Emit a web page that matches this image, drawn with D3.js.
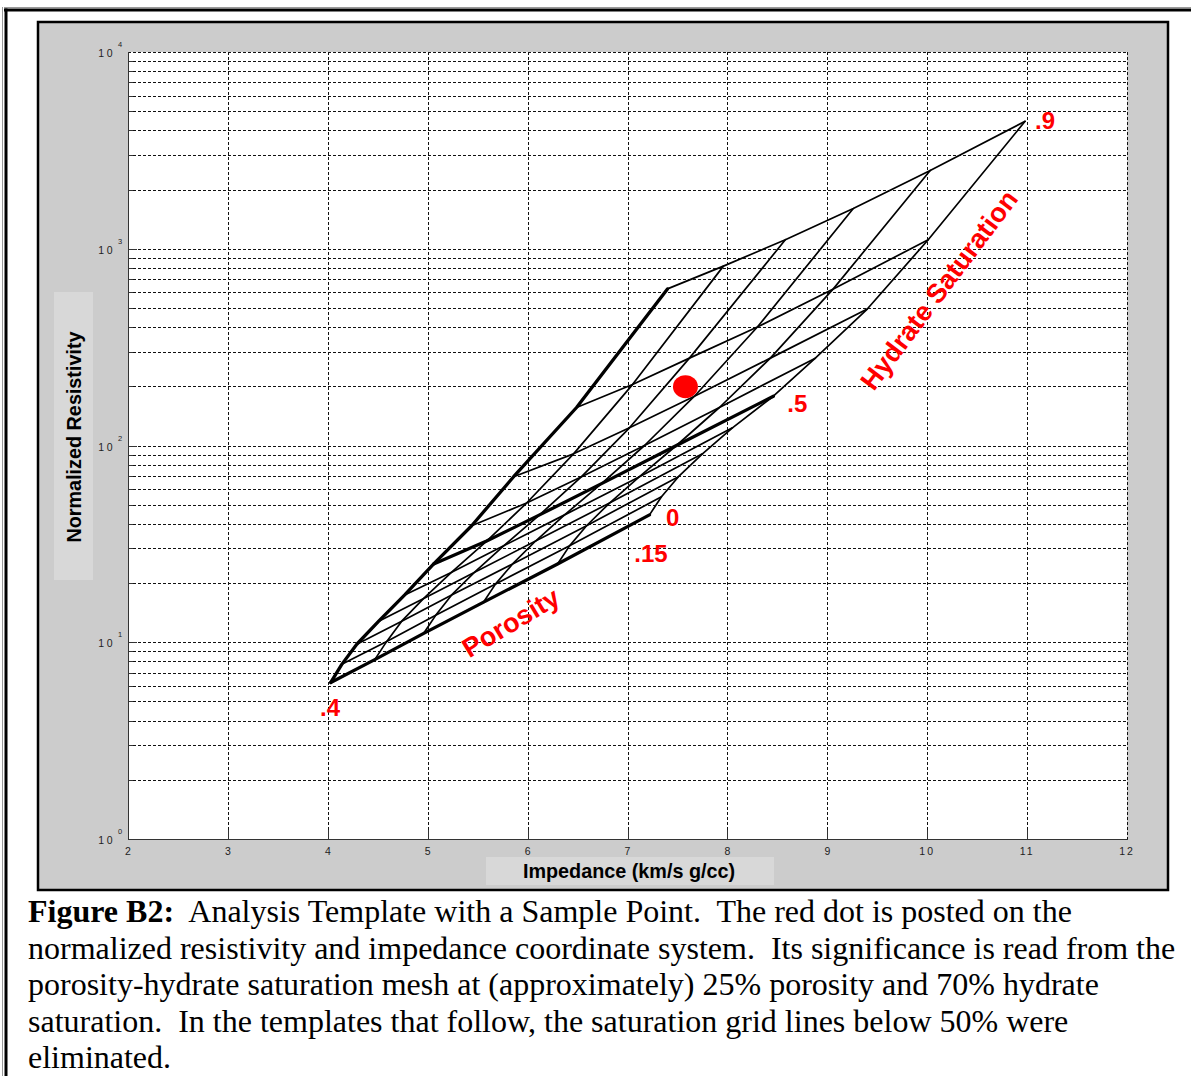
<!DOCTYPE html>
<html><head><meta charset="utf-8">
<script src="https://cdn.jsdelivr.net/npm/d3@7/dist/d3.min.js"></script>
<style>
html,body{margin:0;padding:0;background:#fff;}
svg{display:block;}
</style></head>
<body><svg id="chart" width="1191" height="1076"></svg>
<script>
// ---------------- data ----------------
const porosity = [0.40, 0.35, 0.30, 0.25, 0.20, 0.15];
const saturation = [0, 0.1, 0.2, 0.3, 0.4, 0.5, 0.6, 0.7, 0.8, 0.9];
// impedance (km/s g/cc) along each porosity line, saturation 0 -> 0.9
const impPhi40 = [4.03, 4.14, 4.29, 4.51, 4.77, 5.06, 5.44, 5.86, 6.49, 7.40];
const impPhi35 = [4.47, 4.59, 4.74, 4.96, 5.24, 5.59, 5.99, 6.46, 7.05, 7.96];
const impPhi30 = [4.96, 5.08, 5.24, 5.47, 5.76, 6.12, 6.54, 7.02, 7.62, 8.58];
const impPhi25 = [5.56, 5.68, 5.85, 6.08, 6.37, 6.74, 7.17, 7.67, 8.30, 9.26];
const impPhi20 = [6.30, 6.42, 6.59, 6.82, 7.12, 7.49, 7.92, 8.43, 9.06, 10.03];
const impPhi15 = [7.22, 7.34, 7.51, 7.75, 8.05, 8.46, 8.88, 9.40, 10.01, 10.98];
// normalized resistivity along each porosity line, saturation 0 -> 0.9
const resPhi40 = [6.25, 7.72, 9.77, 12.8, 17.4, 25.0, 39.1, 69.4, 156, 625];
const resPhi35 = [8.16, 10.1, 12.8, 16.7, 22.7, 32.7, 51.0, 90.7, 204, 816];
const resPhi30 = [11.1, 13.7, 17.4, 22.7, 30.9, 44.4, 69.4, 123, 278, 1111];
const resPhi25 = [16.0, 19.8, 25.0, 32.7, 44.4, 64.0, 100, 178, 400, 1600];
const resPhi20 = [25.0, 30.9, 39.1, 51.0, 69.4, 100, 156, 278, 625, 2500];
const resPhi15 = [44.4, 54.9, 69.4, 90.7, 123, 178, 278, 494, 1111, 4444];
// red sample point (impedance, resistivity)
const sampleImp = [7.58];
const sampleRes = [199];
// mesh annotations
const meshLabels = [".9", ".5", "0", ".15", ".4"];
const meshLabelImp = [11.08, 8.60, 7.385, 7.068, 3.922];
const meshLabelRes = [4050, 148.5, 39.0, 25.6, 4.195];
const meshTitles = ["Porosity", "Hydrate Saturation"];
const meshTitleImp = [5.834, 10.12];
const meshTitleRes = [12.55, 616];
// axes
const xTickValues = [2, 3, 4, 5, 6, 7, 8, 9, 10, 11, 12];
const yDecadeExp = [0, 1, 2, 3, 4];
const xLabel = "Impedance (km/s g/cc)";
const yLabel = "Normalized Resistivity";
const captionLines = [
  ["Figure B2:", "  Analysis Template with a Sample Point.  The red dot is posted on the"],
  ["", "normalized resistivity and impedance coordinate system.  Its significance is read from the"],
  ["", "porosity-hydrate saturation mesh at (approximately) 25% porosity and 70% hydrate"],
  ["", "saturation.  In the templates that follow, the saturation grid lines below 50% were"],
  ["", "eliminated."]
];

// ---------------- drawing ----------------
const svg = d3.select("#chart");
const impRows = [impPhi40, impPhi35, impPhi30, impPhi25, impPhi20, impPhi15];
const resRows = [resPhi40, resPhi35, resPhi30, resPhi25, resPhi20, resPhi15];

const plot = {left: 128, right: 1127, top: 52, bottom: 839};
const x = d3.scaleLinear().domain([2, 12]).range([plot.left, plot.right]);
const y = d3.scaleLog().domain([1, 10000]).range([plot.bottom, plot.top]);

// outer page frame
svg.append("line").attr("x1", 4).attr("x2", 1191).attr("y1", 7.5).attr("y2", 7.5).attr("stroke", "#999").attr("stroke-width", 1);
svg.append("line").attr("x1", 2.5).attr("x2", 2.5).attr("y1", 7).attr("y2", 1076).attr("stroke", "#999").attr("stroke-width", 1);
svg.append("line").attr("x1", 4).attr("x2", 1191).attr("y1", 10).attr("y2", 10).attr("stroke", "#000").attr("stroke-width", 3);
svg.append("line").attr("x1", 6).attr("x2", 6).attr("y1", 8.5).attr("y2", 1076).attr("stroke", "#000").attr("stroke-width", 3);

// figure frame
svg.append("rect").attr("x", 38).attr("y", 22).attr("width", 1130).attr("height", 868)
  .attr("fill", "#cccccc").attr("stroke", "#000").attr("stroke-width", 2.5);

// label background boxes
svg.append("rect").attr("x", 54).attr("y", 292).attr("width", 39).attr("height", 288).attr("fill", "#d8d8d8");
svg.append("rect").attr("x", 486).attr("y", 857).attr("width", 288).attr("height", 28).attr("fill", "#d8d8d8");

// plot background
svg.append("rect").attr("x", plot.left).attr("y", plot.top)
  .attr("width", plot.right - plot.left).attr("height", plot.bottom - plot.top).attr("fill", "#fff");

// grid
const grid = svg.append("g").attr("stroke", "#111").attr("stroke-width", 1)
  .attr("stroke-dasharray", "3,2").attr("shape-rendering", "crispEdges");
const yGridVals = [];
yDecadeExp.forEach(e => {
  if (e < 4) for (let m = 1; m <= 9; m++) yGridVals.push(m * Math.pow(10, e));
  else yGridVals.push(Math.pow(10, e));
});
grid.selectAll("line.h").data(yGridVals.filter(v => v > 1)).join("line").attr("class", "h")
  .attr("x1", plot.left).attr("x2", plot.right)
  .attr("y1", d => Math.round(y(d)) + 0.5).attr("y2", d => Math.round(y(d)) + 0.5);
grid.selectAll("line.v").data(xTickValues.filter(v => v > 2)).join("line").attr("class", "v")
  .attr("y1", plot.top).attr("y2", plot.bottom)
  .attr("x1", d => Math.round(x(d)) + 0.5).attr("x2", d => Math.round(x(d)) + 0.5);

// axes lines & ticks
const axisColor = "#333";
const ax = svg.append("g").attr("stroke", axisColor).attr("stroke-width", 1).attr("shape-rendering", "crispEdges");
ax.append("line").attr("x1", plot.left + 0.5).attr("x2", plot.left + 0.5).attr("y1", plot.top).attr("y2", plot.bottom + 0.5);
ax.append("line").attr("x1", plot.left).attr("x2", plot.right + 0.5).attr("y1", plot.bottom + 0.5).attr("y2", plot.bottom + 0.5);
ax.selectAll("line.yt").data(yGridVals.filter(v => v > 1 && v < 10000)).join("line").attr("class", "yt")
  .attr("x1", plot.left).attr("x2", d => plot.left + (Math.log10(d) % 1 === 0 ? 9 : 5))
  .attr("y1", d => Math.round(y(d)) + 0.5).attr("y2", d => Math.round(y(d)) + 0.5);
ax.selectAll("line.xt").data(xTickValues.filter(v => v > 2 && v < 12)).join("line").attr("class", "xt")
  .attr("y1", plot.bottom).attr("y2", plot.bottom - 9)
  .attr("x1", d => Math.round(x(d)) + 0.5).attr("x2", d => Math.round(x(d)) + 0.5);

// tick labels
const tickFont = "'Liberation Sans', Arial, sans-serif";
svg.append("g").selectAll("text").data(xTickValues).join("text")
  .attr("x", d => x(d)).attr("y", plot.bottom + 16)
  .attr("text-anchor", "middle").attr("font-family", tickFont).attr("font-size", 10.5)
  .attr("letter-spacing", d => d >= 10 ? 2 : 0)
  .attr("fill", "#222").text(d => d);
const yl = svg.append("g").attr("font-family", tickFont).attr("fill", "#222");
yl.selectAll("text.base").data(yDecadeExp).join("text").attr("class", "base")
  .attr("x", plot.left - 13).attr("y", d => y(Math.pow(10, d)) + 5)
  .attr("text-anchor", "end").attr("font-size", 10.5).attr("letter-spacing", 2.5).text("10");
yl.selectAll("text.exp").data(yDecadeExp).join("text").attr("class", "exp")
  .attr("x", plot.left - 8).attr("y", d => y(Math.pow(10, d)) - 5)
  .attr("text-anchor", "middle").attr("font-size", 7.5).text(d => d);

// axis titles
svg.append("text").attr("x", 629).attr("y", 878).attr("text-anchor", "middle")
  .attr("font-family", tickFont).attr("font-weight", "bold").attr("font-size", 19.8).text(xLabel);
svg.append("text").attr("transform", "translate(81,437) rotate(-90)").attr("text-anchor", "middle")
  .attr("font-family", tickFont).attr("font-weight", "bold").attr("font-size", 19.8).text(yLabel);

// mesh
const line = d3.line().x(d => x(d[0])).y(d => y(d[1]));
const mesh = svg.append("g").attr("fill", "none").attr("stroke", "#000")
  .attr("stroke-linejoin", "round").attr("stroke-linecap", "round");
// constant-saturation lines
saturation.forEach((s, j) => {
  const pts = porosity.map((p, i) => [impRows[i][j], resRows[i][j]]);
  mesh.append("path").attr("d", line(pts))
    .attr("stroke-width", (s === 0 || s === 0.5) ? 3.3 : 1.7);
});
// constant-porosity lines
porosity.forEach((p, i) => {
  const pts = saturation.map((s, j) => [impRows[i][j], resRows[i][j]]);
  mesh.append("path").attr("d", line(pts))
    .attr("stroke-width", p === 0.40 ? 3.3 : 1.7);
});

// sample point
svg.append("g").selectAll("ellipse").data(sampleImp).join("ellipse")
  .attr("cx", (d, i) => x(d)).attr("cy", (d, i) => y(sampleRes[i]))
  .attr("rx", 12.5).attr("ry", 11.5).attr("fill", "#ff0000");

// mesh labels
const red = "#ff0000";
svg.append("g").selectAll("text").data(meshLabels).join("text")
  .attr("x", (d, i) => x(meshLabelImp[i])).attr("y", (d, i) => y(meshLabelRes[i]))
  .attr("font-family", tickFont).attr("font-weight", "bold").attr("font-size", 24)
  .attr("fill", red).text(d => d);
const titleAngles = [-31, -53];
svg.append("g").selectAll("text").data(meshTitles).join("text")
  .attr("transform", (d, i) => `translate(${x(meshTitleImp[i])},${y(meshTitleRes[i])}) rotate(${titleAngles[i]})`)
  .attr("text-anchor", "middle").attr("dominant-baseline", "central")
  .attr("font-family", tickFont).attr("font-weight", "bold").attr("font-size", 27)
  .attr("fill", red).text(d => d);

// caption
const cap = svg.append("g").attr("font-family", "'Liberation Serif', 'Times New Roman', serif")
  .attr("font-size", 32).attr("fill", "#000");
captionLines.forEach((ln, k) => {
  const t = cap.append("text").attr("x", 28).attr("y", 922 + k * 36.6).attr("xml:space", "preserve")
    .style("white-space", "pre");
  if (ln[0]) t.append("tspan").attr("font-weight", "bold").text(ln[0]);
  t.append("tspan").text(ln[1]);
});
</script>
</body></html>
